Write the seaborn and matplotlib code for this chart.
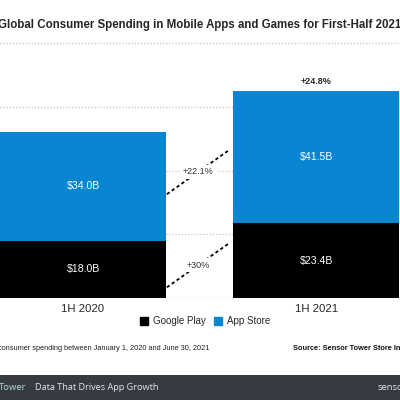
import matplotlib
matplotlib.use("Agg")
import matplotlib.pyplot as plt
from matplotlib.patches import Patch, Rectangle
import pandas as pd
import seaborn as sns

periods = ["1H 2020", "1H 2021"]
google_play = [18.0, 23.4]
app_store = [34.0, 41.5]
growth_total = "+24.8%"
growth_app_store = "+22.1%"
growth_google = "+30%"

blue = "#0986d1"
black = "#000000"

sns.set_style("white")
plt.rcParams["font.family"] = ["Liberation Sans", "DejaVu Sans"]

df = pd.DataFrame({"period": periods, "google": google_play, "apple": app_store})
df["total"] = df["google"] + df["apple"]

fig = plt.figure(figsize=(4, 4), dpi=100)
ax = fig.add_axes([0, 0.255, 1, 0.6375])

for v in [20, 40, 60, 80]:
    ax.axhline(v, color="#c4c4c4", lw=0.9, ls=(0, (1, 1.5)), zorder=0, clip_on=False)

sns.barplot(data=df, x="period", y="total", color=blue, width=0.71,
            saturation=1, linewidth=0, ax=ax, zorder=2)
sns.barplot(data=df, x="period", y="google", color=black, width=0.71,
            saturation=1, linewidth=0, ax=ax, zorder=3)
ax.axhline(0, color="#9a9a9a", lw=0.8, zorder=4)

for i, row in df.iterrows():
    ax.text(i, row["google"] / 2, f"${row['google']:.1f}B", color="white",
            ha="center", va="center", fontsize=7.6, zorder=5)
    ax.text(i, row["google"] + row["apple"] / 2, f"${row['apple']:.1f}B",
            color="white", ha="center", va="center", fontsize=7.6, zorder=5)

ax.text(1, df["total"][1] + 1.6, growth_total, ha="center", va="bottom",
        fontsize=6.5, fontweight="bold", zorder=5)

# dashed growth connectors between the bars
mids = [
    ((df["google"][0] + df["apple"][0] / 2 + df["google"][1] + df["apple"][1] / 2) / 2, growth_app_store),
    ((df["google"][0] / 2 + df["google"][1] / 2) / 2, growth_google),
]
for cy, lab in mids:
    ax.plot([0.36, 0.63], [cy - 7, cy + 7], color="black", lw=1.3,
            ls=(0, (1.8, 1.5)), zorder=3)
    ax.text(0.495, cy, lab, ha="center", va="center", fontsize=6.5,
            color="#333333", zorder=4,
            bbox=dict(facecolor="white", edgecolor="none", pad=2))

ax.set_xlim(-0.356, 1.36)
ax.set_ylim(0, 80)
ax.set_xlabel("")
ax.set_ylabel("")
ax.set_yticks([])
ax.tick_params(axis="x", length=0, pad=4, labelsize=8.2)
sns.despine(ax=ax, left=True, bottom=True)

fig.text(0.5, 1 - 25 / 400, "Global Consumer Spending in Mobile Apps and Games for First-Half 2021",
         ha="center", va="center", fontsize=8.3, fontweight="bold")

handles = [Patch(color=black, label="Google Play"), Patch(color=blue, label="App Store")]
fig.legend(handles=handles, loc="center", bbox_to_anchor=(205 / 400, 1 - 321 / 400),
           ncol=2, frameon=False, fontsize=7, handlelength=0.85, handleheight=0.85,
           handletextpad=0.5, columnspacing=0.8)

fig.text(-0.005, 1 - 349 / 400, "consumer spending between January 1, 2020 and June 30, 2021",
         ha="left", va="center", fontsize=5.3, color="#222222")
fig.text(293 / 400, 1 - 349 / 400, "Source: Sensor Tower Store Intelligence",
         ha="left", va="center", fontsize=5.3, fontweight="bold", color="#111111")

fig.patches.append(Rectangle((0, 0), 1, 25 / 400, transform=fig.transFigure,
                             facecolor="#363b43", edgecolor="none", zorder=0))
fig.text(-0.003, 12 / 400, "Tower", ha="left", va="center", fontsize=6.8,
         color="#b9dcdc", family=["Open Sans", "DejaVu Sans"])
fig.text(35 / 400, 12 / 400, "Data That Drives App Growth", ha="left", va="center",
         fontsize=6.6, color="#e6e6e6", family=["Open Sans", "DejaVu Sans"])
fig.text(378 / 400, 12 / 400, "sensortower.com", ha="left", va="center",
         fontsize=6.8, color="#e6e6e6", family=["Open Sans", "DejaVu Sans"])

fig.savefig("out.png", dpi=100)
